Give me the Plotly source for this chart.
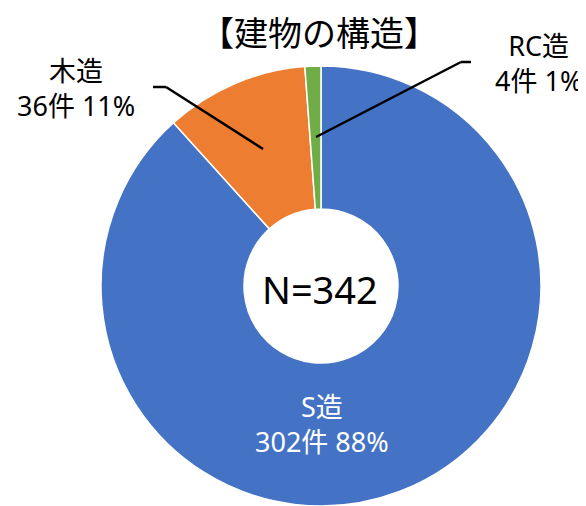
import plotly.graph_objects as go

# Page has an 8px body margin; the figure is sized to fit the visible window.
OFF = 8
W, H = 586 - OFF, 506 - OFF

# Data
categories = ["S造", "木造", "RC造"]
counts = [302, 36, 4]
percents = ["88%", "11%", "1%"]
colors = ["#4472C4", "#ED7D31", "#70AD47"]
title_text = "【建物の構造】"
center_text = "N=342"

FONT = "Noto Sans, Noto Sans CJK JP, sans-serif"

def px(x):
    return (x - OFF) / W

def py(y):
    return 1 - (y - OFF) / H

fig = go.Figure(go.Pie(
    labels=categories,
    values=counts,
    marker=dict(colors=colors, line=dict(color="white", width=1.5)),
    hole=0.35,
    sort=False,
    direction="clockwise",
    rotation=0,
    textinfo="none",
    hoverinfo="label+value+percent",
    showlegend=False,
    domain=dict(x=[px(100), px(542)], y=[0, 440 / H]),
))

# label centre positions (page pixels): (x, y, color)
label_pos = [(322, 424, "white"), (76, 88, "black"), (538, 63, "black")]

annotations = []
for c, n, p, (x, y, col) in zip(categories, counts, percents, label_pos):
    annotations.append(dict(
        text=f"{c}<br>{n}件 {p}", x=px(x), y=py(y), xref="paper", yref="paper",
        showarrow=False, xanchor="center", yanchor="middle",
        font=dict(family=FONT, size=27, color=col), align="center",
    ))
annotations.append(dict(
    text=title_text, x=px(319), y=py(31), xref="paper", yref="paper",
    showarrow=False, xanchor="center", yanchor="middle",
    font=dict(family="Noto Sans CJK JP, sans-serif", size=34, color="black"),
))
annotations.append(dict(
    text=center_text, x=px(320), y=py(289), xref="paper", yref="paper",
    showarrow=False, xanchor="center", yanchor="middle",
    font=dict(family=FONT, size=38, color="black"),
))

line_style = dict(color="black", width=2.5)
shapes = [
    # 木造 leader
    dict(type="line", xref="paper", yref="paper", x0=px(153), y0=py(87), x1=px(166), y1=py(87), line=line_style),
    dict(type="line", xref="paper", yref="paper", x0=px(166), y0=py(87), x1=px(263), y1=py(149), line=line_style),
    # RC造 leader
    dict(type="line", xref="paper", yref="paper", x0=px(471), y0=py(62), x1=px(461), y1=py(62), line=line_style),
    dict(type="line", xref="paper", yref="paper", x0=px(461), y0=py(62), x1=px(316), y1=py(137), line=line_style),
]

fig.update_layout(
    width=W, height=H,
    margin=dict(l=0, r=0, t=0, b=0),
    paper_bgcolor="white", plot_bgcolor="white",
    annotations=annotations,
    shapes=shapes,
)

fig.write_html("out.html")
